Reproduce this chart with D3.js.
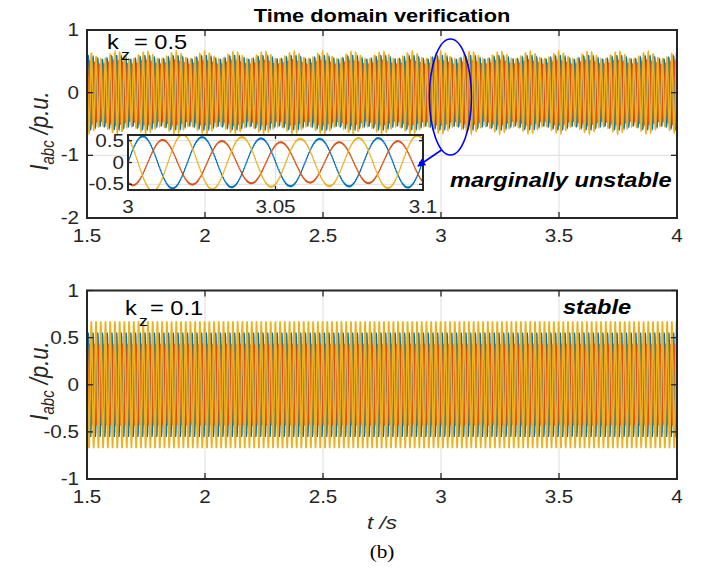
<!DOCTYPE html>
<html><head><meta charset="utf-8">
<script src="https://cdn.jsdelivr.net/npm/d3@7"></script>
<style>body{margin:0;background:#fff}svg{display:block}</style>
</head><body>
<svg id="c" width="706" height="569"></svg>
<script>
// ---------------- data ----------------
const xTicks = [1.5, 2, 2.5, 3, 3.5, 4];
const yTicksTop = [-2, -1, 0, 1];
const yTicksBottom = [-1, -0.5, 0, 0.5, 1];
const insetXTicks = [3, 3.05, 3.1];
const insetYTicks = [-0.5, 0, 0.5];
const phaseNames = ["a", "b", "c"];
const phaseColors = ["#0072BD", "#D95319", "#EDB120"];
const phaseShiftDeg = [0, -120, 120];
const gridFreqHz = 50;
// kz = 0.5 (marginally unstable): fundamental amplitude per phase, plus a weakly damped interharmonic
const ampTop = [0.57, 0.49, 0.60];
const oscTopAmp = [0.03, 0.03, 0.06];
const oscTopFreqHz = 42;
// kz = 0.1 (stable)
const ampBottom = [0.56, 0.43, 0.68];
// small switching ripple seen on the zoomed traces
const rippleAmp = [0.012, 0.012, 0.012];
const rippleFreqHz = 2450;
const tStart = 1.5, tEnd = 4;
const insetT = [3, 3.1];
const insetY = [-0.63, 0.63];

// ---------------- helpers ----------------
const svg = d3.select("#c");
const SX = 1.18;
const FONT = "'Liberation Sans', Arial, Helvetica, sans-serif";
const AX = "#262626";

function label(g, x, y, str, o = {}) {
  const t = g.append("text")
    .attr("transform", `translate(${x},${y}) scale(${SX},1)` + (o.rot ? ` rotate(${o.rot})` : ""))
    .attr("font-family", o.family || FONT)
    .attr("font-size", o.size || 17.5)
    .attr("fill", o.fill || AX)
    .attr("text-anchor", o.anchor || "start");
  if (o.weight) t.attr("font-weight", o.weight);
  if (o.style) t.attr("font-style", o.style);
  t.text(str);
  return t;
}

function signal(t, k, amps, osc) {
  const ph = phaseShiftDeg[k] * Math.PI / 180;
  let v = amps[k] * Math.sin(2 * Math.PI * gridFreqHz * (t - 3) + ph);
  if (osc) v += osc.amp[k] * Math.sin(2 * Math.PI * osc.freq * (t - 3) + ph);
  v += rippleAmp[k] * Math.sin(2 * Math.PI * rippleFreqHz * t + k * 1.7);
  return v;
}
function series(t0, t1, dt, k, amps, osc) {
  const pts = [];
  const n = Math.round((t1 - t0) / dt);
  for (let i = 0; i <= n; i++) { const t = t0 + i * dt; pts.push([t, signal(t, k, amps, osc)]); }
  return pts;
}

const x = d3.scaleLinear().domain([tStart, tEnd]).range([87, 677]);
const panels = [
  { y: d3.scaleLinear().domain([-2, 1]).range([218, 30]), ticks: yTicksTop, amps: ampTop,
    osc: { amp: oscTopAmp, freq: oscTopFreqHz }, id: "top" },
  { y: d3.scaleLinear().domain([-1, 1]).range([479, 290.5]), ticks: yTicksBottom, amps: ampBottom,
    osc: null, id: "bot" }
];

const defs = svg.append("defs");
defs.append("marker").attr("id", "arr").attr("viewBox", "0 0 10 10").attr("refX", 9).attr("refY", 5)
  .attr("markerWidth", 9).attr("markerHeight", 8).attr("orient", "auto").attr("markerUnits", "userSpaceOnUse")
  .append("path").attr("d", "M0,0 L10,5 L0,10 Z").attr("fill", "#0000FF");

function drawAxesBox(g, xs, ys, xt, yt, tickLen) {
  const [x0, x1] = xs.range(), [y0, y1] = ys.range();
  const a = g.append("g").attr("stroke", AX).attr("stroke-width", 1.3).attr("fill", "none");
  xt.forEach(v => {
    a.append("line").attr("x1", xs(v)).attr("x2", xs(v)).attr("y1", y0).attr("y2", y0 - tickLen);
    a.append("line").attr("x1", xs(v)).attr("x2", xs(v)).attr("y1", y1).attr("y2", y1 + tickLen);
  });
  yt.forEach(v => {
    a.append("line").attr("x1", x0).attr("x2", x0 + tickLen).attr("y1", ys(v)).attr("y2", ys(v));
    a.append("line").attr("x1", x1).attr("x2", x1 - tickLen).attr("y1", ys(v)).attr("y2", ys(v));
  });
  a.append("rect").attr("x", x0).attr("y", y1).attr("width", x1 - x0).attr("height", y0 - y1)
    .attr("stroke-width", 2);
}

panels.forEach(p => {
  const g = svg.append("g");
  const [y0, y1] = p.y.range();
  g.append("rect").attr("x", 87).attr("y", y1).attr("width", 590).attr("height", y0 - y1).attr("fill", "#fff");
  // grid
  const gr = g.append("g").attr("stroke", "#dedede").attr("stroke-width", 1);
  xTicks.slice(1, -1).forEach(v => gr.append("line").attr("x1", x(v)).attr("x2", x(v)).attr("y1", y1).attr("y2", y0));
  p.ticks.slice(1, -1).forEach(v => gr.append("line").attr("x1", 87).attr("x2", 677).attr("y1", p.y(v)).attr("y2", p.y(v)));
  // clip
  defs.append("clipPath").attr("id", "clip-" + p.id).append("rect")
    .attr("x", 87).attr("y", y1).attr("width", 590).attr("height", y0 - y1);
  const line = d3.line().x(d => x(d[0])).y(d => p.y(d[1]));
  const lg = g.append("g").attr("clip-path", `url(#clip-${p.id})`);
  phaseNames.forEach((nm, k) => {
    lg.append("path").datum(series(tStart, tEnd, 0.0004, k, p.amps, p.osc))
      .attr("d", line).attr("fill", "none").attr("stroke", phaseColors[k]).attr("stroke-width", 1.6);
  });
  drawAxesBox(g, x, p.y, xTicks, p.ticks, 6);
  xTicks.forEach(v => label(g, x(v), y0 + 24, String(v), { anchor: "middle" }));
  p.ticks.forEach(v => label(g, 79, p.y(v) + 6, String(v), { anchor: "end" }));
  p.g = g;
});

// ---------------- inset (top panel) ----------------
const ix = d3.scaleLinear().domain(insetT).range([128, 423]);
const iy = d3.scaleLinear().domain(insetY).range([190, 135]);
const ig = svg.append("g");
ig.append("rect").attr("x", 128).attr("y", 135).attr("width", 295).attr("height", 55).attr("fill", "#fff");
const igr = ig.append("g").attr("stroke", "#e0e0e0").attr("stroke-width", 1);
insetXTicks.slice(1, -1).forEach(v => igr.append("line").attr("x1", ix(v)).attr("x2", ix(v)).attr("y1", 135).attr("y2", 190));
insetYTicks.forEach(v => igr.append("line").attr("x1", 128).attr("x2", 423).attr("y1", iy(v)).attr("y2", iy(v)));
defs.append("clipPath").attr("id", "clip-ins").append("rect").attr("x", 128).attr("y", 135).attr("width", 295).attr("height", 55);
const iline = d3.line().x(d => ix(d[0])).y(d => iy(d[1]));
const ilg = ig.append("g").attr("clip-path", "url(#clip-ins)");
phaseNames.forEach((nm, k) => {
  ilg.append("path").datum(series(insetT[0], insetT[1], 0.00005, k, ampTop, { amp: oscTopAmp, freq: oscTopFreqHz }))
    .attr("d", iline).attr("fill", "none").attr("stroke", phaseColors[k]).attr("stroke-width", 1.2);
});
drawAxesBox(ig, ix, iy, insetXTicks, insetYTicks, 4);
insetXTicks.forEach(v => label(ig, ix(v), 213, String(v), { anchor: "middle" }));
insetYTicks.forEach(v => label(ig, 124, iy(v) + 6, String(v), { anchor: "end" }));

// ---------------- annotations ----------------
const an = svg.append("g");
an.append("ellipse").attr("cx", x(3.04)).attr("cy", panels[0].y(-0.07)).attr("rx", 21).attr("ry", 58)
  .attr("fill", "none").attr("stroke", "#0000FF").attr("stroke-width", 1.6);
an.append("line").attr("x1", 441.5).attr("y1", 150).attr("x2", 418).attr("y2", 166)
  .attr("stroke", "#0000FF").attr("stroke-width", 1.6).attr("marker-end", "url(#arr)");

label(an, 382, 22, "Time domain verification", { anchor: "middle", weight: "bold", size: 18.5, fill: "#000" });
label(an, 450, 187, "marginally unstable", { weight: "bold", style: "italic", size: 20, fill: "#000" });
label(an, 563, 314, "stable", { weight: "bold", style: "italic", size: 20, fill: "#000" });

// k_z labels
label(an, 107, 49, "k", { size: 20, fill: "#000" });
label(an, 121, 60, "z", { size: 15, fill: "#000" });
label(an, 134, 49, "= 0.5", { size: 20, fill: "#000" });
label(an, 125, 315, "k", { size: 20, fill: "#000" });
label(an, 139, 326, "z", { size: 15, fill: "#000" });
label(an, 150, 315, "= 0.1", { size: 20, fill: "#000" });

// y labels
[[48, 131], [48, 381]].forEach(([lx, ly]) => {
  const t = an.append("text")
    .attr("transform", `translate(${lx},${ly}) scale(${SX},1) rotate(-90)`)
    .attr("font-family", FONT).attr("font-size", 22).attr("fill", AX)
    .attr("text-anchor", "middle").attr("font-style", "italic");
  t.append("tspan").text("I");
  t.append("tspan").attr("font-size", 15).attr("dy", 5).text("abc");
  t.append("tspan").attr("dy", -5).text(" /p.u.");
});

label(an, 382, 529, "t /s", { anchor: "middle", style: "italic", size: 19 });
label(an, 382, 558, "(b)", { anchor: "middle", size: 18, fill: "#000", family: "'Liberation Serif','Times New Roman',serif" });
</script>
</body></html>
